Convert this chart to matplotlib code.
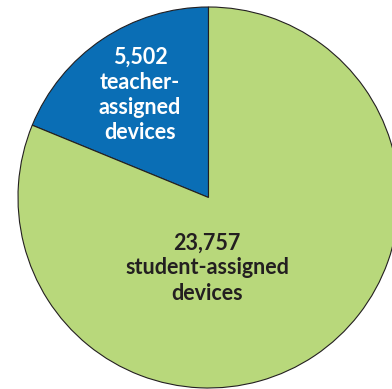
import matplotlib
matplotlib.use("Agg")
import matplotlib.pyplot as plt

categories = ["teacher-assigned devices", "student-assigned devices"]
values = [5502, 23757]
label_lines = [["teacher-", "assigned", "devices"], ["student-assigned", "devices"]]
colors = ["#0a6eb5", "#b8d87b"]
text_colors = ["white", "#231f20"]

fig = plt.figure(figsize=(3.92, 3.89), dpi=100)
ax = fig.add_axes([0, 0, 1, 1])

ax.pie(values, colors=colors, startangle=90, counterclock=True,
       center=(208.5, 191.5), radius=190.5,
       wedgeprops=dict(edgecolor="#231f20", linewidth=0.8), frame=True)
ax.set_xlim(0, 392)
ax.set_ylim(0, 389)
ax.set_aspect("equal")
ax.axis("off")

font = dict(family=["Lato", "DejaVu Sans"], fontweight="bold", fontsize=15.5)
positions = [(140, 389 - 57), (207, 389 - 243)]
step = 25
for (x, y), v, lines, tc in zip(positions, values, label_lines, text_colors):
    ax.text(x, y, f"{v:,}", ha="center", va="center", color=tc, **font)
    for i, ln in enumerate(lines):
        ax.text(x, y - step * (i + 1), ln, ha="center", va="center", color=tc, **font)

fig.savefig("out.png", dpi=100)
